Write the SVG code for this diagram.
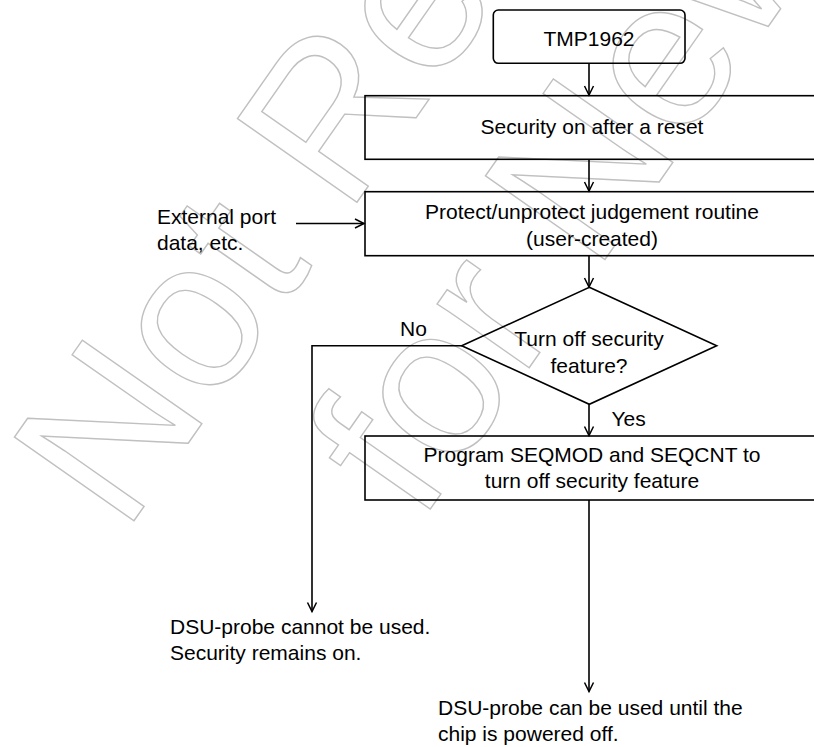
<svg xmlns="http://www.w3.org/2000/svg" width="814" height="747" viewBox="0 0 814 747">
<style>
  .box{fill:none;stroke:#000;stroke-width:1.6}
  .t{font-family:"Liberation Sans",Arial,sans-serif;font-size:21px;fill:#000}
  .c{text-anchor:middle}
  .edge{fill:none;stroke:#000;stroke-width:1.6}
  .wm{font-family:"Liberation Sans",Arial,sans-serif;font-size:212px;fill:none;stroke:#c0c0c0;stroke-width:1.4}
</style>
<defs>
  <marker id="arr" markerUnits="userSpaceOnUse" markerWidth="12" markerHeight="12" viewBox="-10 -6 12 12" refX="0" refY="0" orient="auto">
    <path d="M-9,-4.5 L0,0 L-9,4.5" fill="none" stroke="#000" stroke-width="1.5"/>
  </marker>
</defs>
<rect width="814" height="747" fill="#fff"/>
<g id="watermark" transform="translate(124,535) rotate(-55)">
  <text class="wm" x="0" y="0">Not Recommended</text>
  <text class="wm" x="178" y="236">for New Design</text>
</g>
<g id="connectors">
  <line class="edge" x1="589" y1="63" x2="589" y2="95" marker-end="url(#arr)"/>
  <line class="edge" x1="589" y1="159" x2="589" y2="191" marker-end="url(#arr)"/>
  <line class="edge" x1="296" y1="223.5" x2="364" y2="223.5" marker-end="url(#arr)"/>
  <line class="edge" x1="589" y1="255.5" x2="589" y2="287" marker-end="url(#arr)"/>
  <polyline class="edge" points="462,345.7 312,345.7 312,611.5" marker-end="url(#arr)"/>
  <line class="edge" x1="589" y1="404.3" x2="589" y2="435.5" marker-end="url(#arr)"/>
  <line class="edge" x1="589" y1="500" x2="589" y2="691.5" marker-end="url(#arr)"/>
  <text class="t" x="400" y="336">No</text>
  <text class="t" x="611.5" y="426">Yes</text>
</g>
<g id="start">
  <rect class="box" x="493.3" y="10" width="191.7" height="53.3" rx="5"/>
  <text class="t c" x="589" y="45.5">TMP1962</text>
</g>
<g id="reset">
  <rect class="box" x="365" y="95.7" width="470" height="63.6"/>
  <text class="t c" x="592" y="134">Security on after a reset</text>
</g>
<g id="judge">
  <rect class="box" x="365" y="191.7" width="470" height="64"/>
  <text class="t c" x="592" y="219">Protect/unprotect judgement routine</text>
  <text class="t c" x="592" y="245.5">(user-created)</text>
</g>
<g id="external">
  <text class="t" x="157" y="224">External port</text>
  <text class="t" x="157" y="250">data, etc.</text>
</g>
<g id="decision">
  <polygon class="box" points="589.3,287.3 716.7,345.7 589.3,404.3 461.7,345.7"/>
  <text class="t c" x="589" y="345.5">Turn off security</text>
  <text class="t c" x="589" y="372.5">feature?</text>
</g>
<g id="program">
  <rect class="box" x="365" y="436" width="470" height="64"/>
  <text class="t c" x="592" y="461.5">Program SEQMOD and SEQCNT to</text>
  <text class="t c" x="592" y="488">turn off security feature</text>
</g>
<g id="result-no">
  <text class="t" x="170" y="634">DSU-probe cannot be used.</text>
  <text class="t" x="170" y="660">Security remains on.</text>
</g>
<g id="result-yes">
  <text class="t" x="438" y="715">DSU-probe can be used until the</text>
  <text class="t" x="438" y="740.5">chip is powered off.</text>
</g>
</svg>
